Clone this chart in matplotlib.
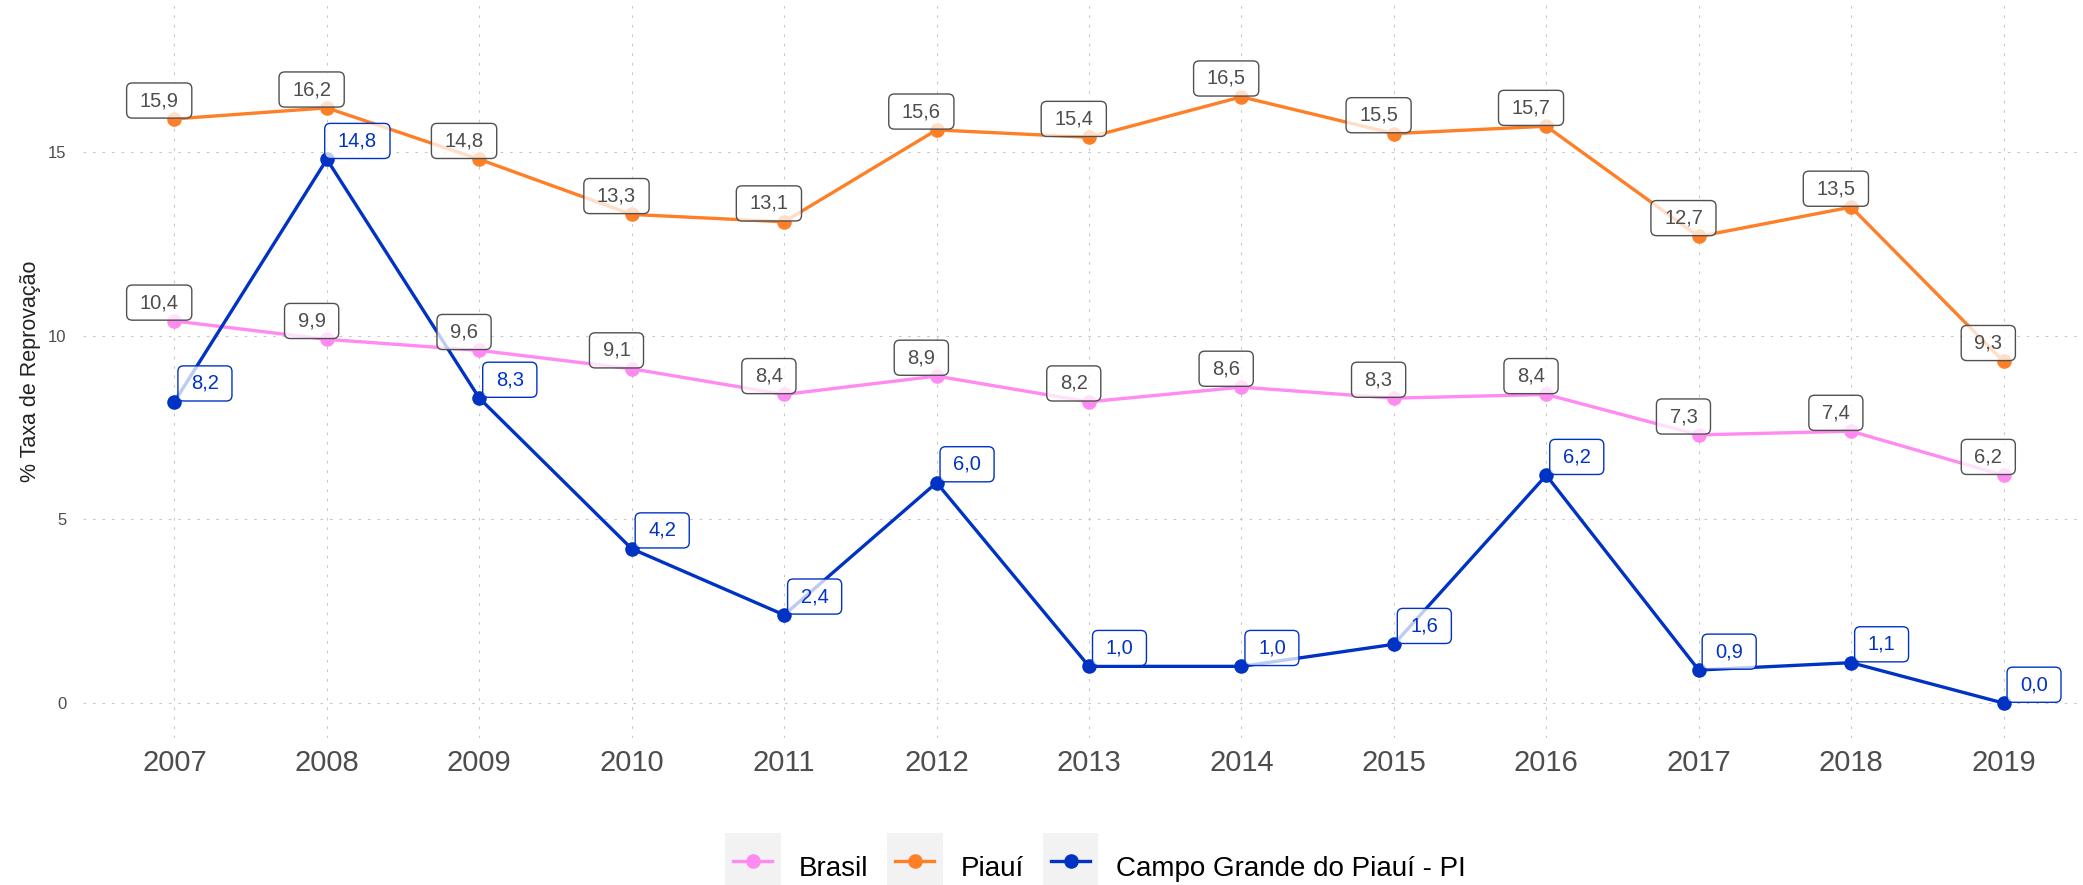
import matplotlib
matplotlib.use("Agg")
import matplotlib.pyplot as plt
from matplotlib.legend_handler import HandlerLine2D
from matplotlib.patches import Rectangle, BoxStyle
from matplotlib.lines import Line2D

plt.rcParams['font.family'] = ['Liberation Sans', 'DejaVu Sans']

years = [2007, 2008, 2009, 2010, 2011, 2012, 2013, 2014, 2015, 2016, 2017, 2018, 2019]
brasil = [10.4, 9.9, 9.6, 9.1, 8.4, 8.9, 8.2, 8.6, 8.3, 8.4, 7.3, 7.4, 6.2]
piaui = [15.9, 16.2, 14.8, 13.3, 13.1, 15.6, 15.4, 16.5, 15.5, 15.7, 12.7, 13.5, 9.3]
campo_grande = [8.2, 14.8, 8.3, 4.2, 2.4, 6.0, 1.0, 1.0, 1.6, 6.2, 0.9, 1.1, 0.0]

series_names = ["Brasil", "Piauí", "Campo Grande do Piauí - PI"]
series_colors = ["#ff8af2", "#ff7f27", "#0033c4"]
y_ticks = [0, 5, 10, 15]

W, H = 2083, 885
fig = plt.figure(figsize=(W / 100, H / 100), dpi=100)
ax = fig.add_axes([83 / W, (H - 738) / H, 2012 / W, 733 / H])
ax.set_xlim(2006.4, 2019.6)
ax.set_ylim(-0.95, 19.0)

for s in ax.spines.values():
    s.set_visible(False)
ax.set_xticks(years)
ax.set_xticklabels([str(y) for y in years])
ax.set_yticks(y_ticks)
ax.tick_params(axis='both', length=0)
ax.tick_params(axis='x', labelsize=21, labelcolor='#4d4d4d', pad=8)
ax.tick_params(axis='y', labelsize=12, labelcolor='#4d4d4d', pad=12)
ax.grid(True, color='#c8c8c8', linewidth=0.75, linestyle=(0, (2.6, 6.5)))
ax.set_axisbelow(True)

ax.text(-0.026, 0.5, "% Taxa de Reprovação", transform=ax.transAxes,
        rotation=90, ha='center', va='center', fontsize=15.5, color='#222222')


def label_box(padx, pady, r):
    rounder = BoxStyle.Round(pad=0, rounding_size=r)

    def box(x0, y0, width, height, mutation_size):
        px = padx * mutation_size
        py = pady * mutation_size
        return rounder(x0 - px, y0 - py, width + 2 * px, height + 2 * py, mutation_size)
    return box


def fmt(v):
    return f"{v:.1f}".replace('.', ',')


series = [brasil, piaui, campo_grande]
for vals, name, col in zip(series, series_names, series_colors):
    ax.plot(years, vals, color=col, linewidth=2.4, marker='o', markersize=10.5,
            markeredgewidth=0, label=name, zorder=3)

# value labels: state/national series in grey boxes, municipality in blue boxes
for vals, col, dx, is_local in [(brasil, '#4d4d4d', -0.1, False),
                                (piaui, '#4d4d4d', -0.1, False),
                                (campo_grande, series_colors[2], 0.2, True)]:
    edge = series_colors[2] if is_local else '#505050'
    for x, v in zip(years, vals):
        ax.text(x + dx, v + 0.5, fmt(v), ha='center', va='center',
                fontsize=14.5, color=col, zorder=5,
                bbox=dict(boxstyle=label_box(0.65, 0.4, 0.28),
                          facecolor=(1, 1, 1, 0.75), edgecolor=edge,
                          linewidth=1.0))


class KeyHandler(HandlerLine2D):
    def __init__(self, inset=6, **kw):
        super().__init__(**kw)
        self.inset = inset

    def create_artists(self, legend, orig_handle, xdescent, ydescent,
                       width, height, fontsize, trans):
        bg = Rectangle((-xdescent, -ydescent), width, height + ydescent,
                       facecolor='#f2f2f2', edgecolor='none', transform=trans)
        arts = super().create_artists(legend, orig_handle, xdescent - self.inset,
                                      ydescent, width - 2 * self.inset, height,
                                      fontsize, trans)
        return [bg] + list(arts)


handles, labels = ax.get_legend_handles_labels()
fig.legend(handles, labels, loc='center', bbox_to_anchor=(0.526, 1 - 867 / H),
           ncol=3, frameon=False, fontsize=20, numpoints=1,
           handlelength=2.0, handleheight=2.0, handletextpad=0.65,
           columnspacing=0.68, borderpad=0,
           handler_map={Line2D: KeyHandler(inset=6)})

fig.savefig("out.png", dpi=100)
